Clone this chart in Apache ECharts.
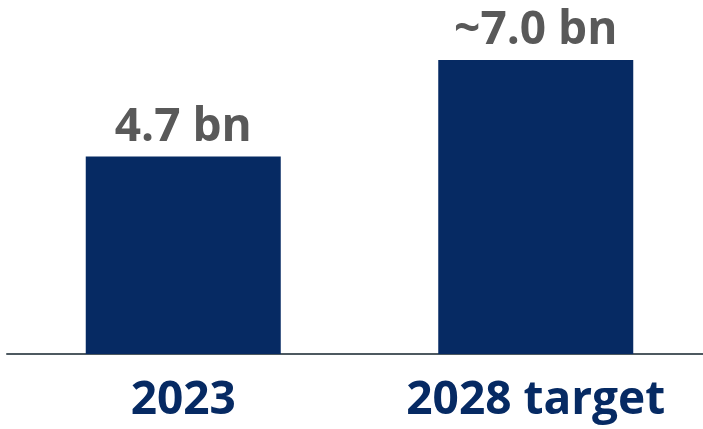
<!DOCTYPE html>
<html>
<head>
<meta charset="utf-8">
<script src="https://cdn.jsdelivr.net/npm/echarts@6/dist/echarts.min.js"></script>
<style>
  html, body { margin: 0; padding: 0; background: #ffffff; }
  #chart { width: 703px; height: 429px; }
</style>
</head>
<body>
<div id="chart"></div>
<script>
// Revenue figures (EUR bn)
const categories = ['2023', '2028 target'];
const values = [4.7, 7.0];
const valueLabels = ['4.7 bn', '~7.0 bn'];

const FONT = '"Open Sans", "Noto Sans", sans-serif';
const chart = echarts.init(document.getElementById('chart'), null, { renderer: 'canvas' });

chart.setOption({
  animation: false,
  grid: {
    left: 7, width: 705, top: 60, bottom: 75,
    containLabel: false,
    outerBoundsMode: 'none'
  },
  xAxis: {
    type: 'category',
    data: categories,
    axisLine: { show: true, lineStyle: { color: '#4d5960', width: 2 } },
    axisTick: { show: false },
    axisLabel: {
      color: '#062a63',
      fontFamily: FONT,
      fontWeight: 'bold',
      fontSize: 46,
      margin: 24
    }
  },
  yAxis: {
    type: 'value',
    min: 0,
    max: 7.0,
    show: false,
    splitLine: { show: false }
  },
  series: [{
    type: 'bar',
    data: values,
    barWidth: 195,
    itemStyle: { color: '#062a63' },
    label: {
      show: true,
      position: 'top',
      distance: 6,
      color: '#595959',
      fontFamily: FONT,
      fontWeight: 'bold',
      fontSize: 46,
      formatter: p => valueLabels[p.dataIndex]
    }
  }]
});
</script>
</body>
</html>
